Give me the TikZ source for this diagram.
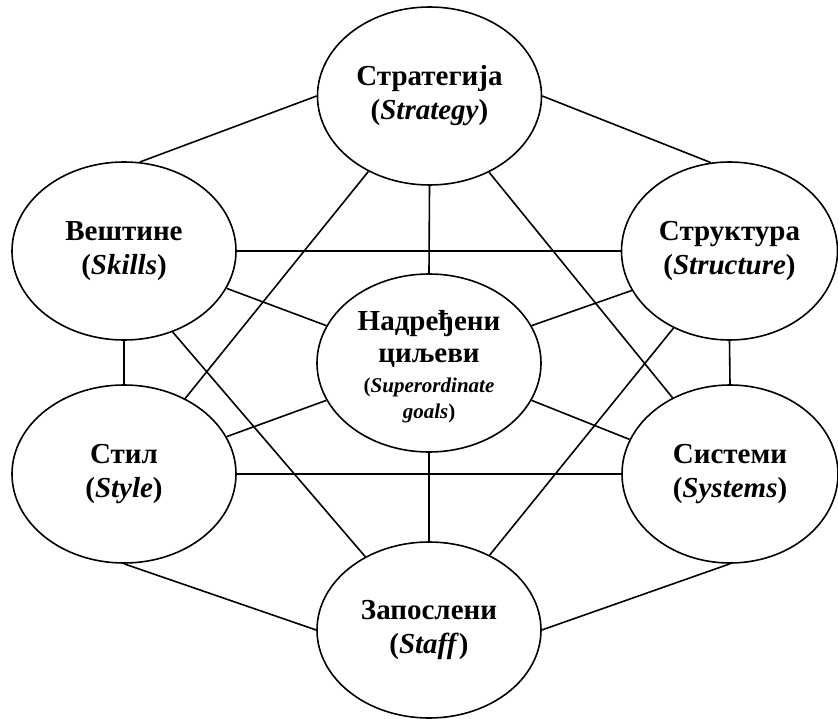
\documentclass[tikz,border=0pt]{standalone}
\usepackage{fontspec}
\setmainfont{Liberation Serif}
\usetikzlibrary{shapes.geometric}
\begin{document}
\begin{tikzpicture}[x=1pt,y=-1pt,
  bub/.style={draw, ellipse, line width=1.6pt, inner sep=0pt, minimum width=224pt, minimum height=178pt, align=center, font=\fontsize{29}{34}\selectfont\bfseries},
  bubr/.style={bub, minimum width=216pt},
  lnk/.style={line width=1.6pt}]
\useasboundingbox (0,0) rectangle (838,719);
\node[bub]  (str) at (429.5,96) {Стратегија\\(\textit{Strategy})};
\node[bub]  (ski) at (124,251)  {Вештине\\(\textit{Skills})};
\node[bubr] (stc) at (729.5,251) {Структура\\(\textit{Structure})};
\node[bub]  (sup) at (429,363) {\\[-6pt]Надређени\\[-2pt]циљеви\\[-4pt]{\fontsize{21}{24}\selectfont(\textit{Superordinate}}\\[-8pt]{\fontsize{21}{24}\selectfont\textit{goals})}};
\node[bub]  (sty) at (124,474)  {Стил\\(\textit{Style})};
\node[bubr] (sys) at (730,474) {Системи\\(\textit{Systems})};
\node[bub, minimum height=176pt] (sta) at (429,630) {Запослени\\(\textit{Staff})};
% outer ring
\draw[lnk] (str.180) -- (ski.80);
\draw[lnk] (str.0) -- (stc.102);
\draw[lnk] (ski.south) -- (sty.north);
\draw[lnk] (stc.south) -- (sys.north);
\draw[lnk] (sty.south) -- (sta.180);
\draw[lnk] (sys.south) -- (sta.0);
% inner links
\draw[lnk] (str.270) -- (sup.90);
\draw[lnk] (sup.270) -- (sta.90);
\draw[lnk] (ski.0) -- (stc.180);
\draw[lnk] (sty.0) -- (sys.180);
\draw[lnk] (ski.340) -- (sup.160);
\draw[lnk] (stc.202) -- (sup.20);
\draw[lnk] (sty.20) -- (sup.200);
\draw[lnk] (sys.161) -- (sup.340);
\draw[lnk] (ski.301) -- (sta.131);
\draw[lnk] (stc.234) -- (sta.51);
\draw[lnk] (str.231) -- (sty.51);
\draw[lnk] (str.308.5) -- (sys.127);
\end{tikzpicture}
\end{document}
